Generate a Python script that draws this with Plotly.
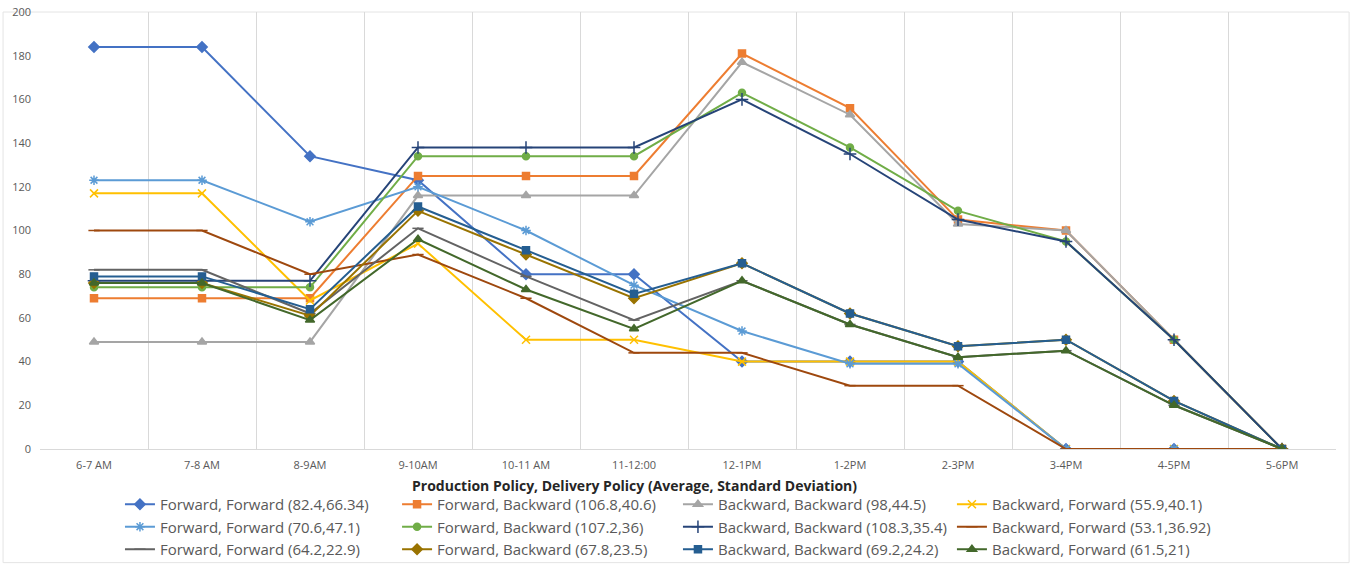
import plotly.graph_objects as go

hours = ["6-7 AM", "7-8 AM", "8-9AM", "9-10AM", "10-11 AM", "11-12:00",
         "12-1PM", "1-2PM", "2-3PM", "3-4PM", "4-5PM", "5-6PM"]

ff_82 = [184, 184, 134, 123, 80, 80, 40, 40, 40, 0, 0, 0]
fb_106 = [69, 69, 69, 125, 125, 125, 181, 156, 105, 100, 50, 0]
bb_98 = [49, 49, 49, 116, 116, 116, 177, 153, 103, 100, 50, 0]
bf_55 = [117, 117, 68, 94, 50, 50, 40, 40, 40, 0, 0, 0]
ff_70 = [123, 123, 104, 120, 100, 75, 54, 39, 39, 0, 0, 0]
fb_107 = [74, 74, 74, 134, 134, 134, 163, 138, 109, 95, 50, 0]
bb_108 = [77, 77, 77, 138, 138, 138, 160, 135, 105, 95, 50, 0]
bf_53 = [100, 100, 80, 89, 69, 44, 44, 29, 29, 0, 0, 0]
ff_64 = [82, 82, 62, 101, 79, 59, 77, 57, 42, 45, 20, 0]
fb_67 = [76, 76, 61, 109, 89, 69, 85, 62, 47, 50, 22, 0]
bb_69 = [79, 79, 64, 111, 91, 71, 85, 62, 47, 50, 22, 0]
bf_61 = [76, 76, 59, 96, 73, 55, 77, 57, 42, 45, 20, 0]

# name, values, colour, marker symbol, marker size, legend column
series = [
    ("Forward, Forward (82.4,66.34)", ff_82, "#4472C4", "diamond", 8, "legend"),
    ("Forward, Backward (106.8,40.6)", fb_106, "#ED7D31", "square", 7, "legend2"),
    ("Backward, Backward (98,44.5)", bb_98, "#A5A5A5", "triangle-up", 8, "legend3"),
    ("Backward, Forward (55.9,40.1)", bf_55, "#FFC000", "x-thin-open", 8, "legend4"),
    ("Forward, Forward (70.6,47.1)", ff_70, "#5B9BD5", "asterisk-open", 8, "legend"),
    ("Forward, Backward (107.2,36)", fb_107, "#70AD47", "circle", 7, "legend2"),
    ("Backward, Backward (108.3,35.4)", bb_108, "#264478", "cross-thin-open", 9, "legend3"),
    ("Backward, Forward (53.1,36.92)", bf_53, "#9E480E", "line-ew-open", 8, "legend4"),
    ("Forward, Forward (64.2,22.9)", ff_64, "#636363", "line-ew-open", 8, "legend"),
    ("Forward, Backward (67.8,23.5)", fb_67, "#997300", "diamond", 8, "legend2"),
    ("Backward, Backward (69.2,24.2)", bb_69, "#255E91", "square", 7, "legend3"),
    ("Backward, Forward (61.5,21)", bf_61, "#43682B", "triangle-up", 8, "legend4"),
]

FONT = "Open Sans, Lato, sans-serif"

fig = go.Figure()
for rank, (name, vals, color, sym, size, leg) in enumerate(series):
    fig.add_trace(go.Scatter(
        x=list(range(len(hours))), y=vals, name=name, mode="lines+markers",
        line=dict(color=color, width=2),
        marker=dict(symbol=sym, size=size, color=color,
                    line=dict(color=color, width=1.5)),
        legend=leg, legendrank=rank,
    ))

leg_common = dict(orientation="v", xref="container", yref="container",
                  xanchor="left", yanchor="top", y=0.1363,
                  font=dict(family=FONT, size=15, color="#595959"),
                  bgcolor="rgba(0,0,0,0)", tracegroupgap=0, itemwidth=30)

fig.update_layout(
    width=1357, height=565,
    margin=dict(l=40, r=21, t=12, b=116, autoexpand=False),
    plot_bgcolor="white", paper_bgcolor="white",
    font=dict(family=FONT, color="#595959"),
    showlegend=True,
    legend=dict(x=0.0884, **leg_common),
    legend2=dict(x=0.2926, **leg_common),
    legend3=dict(x=0.4996, **leg_common),
    legend4=dict(x=0.7015, **leg_common),
    xaxis=dict(
        range=[-0.5, 11.5], tickmode="array", tickvals=list(range(len(hours))),
        ticktext=hours, showgrid=False, zeroline=False, ticks="",
        ticklabelstandoff=6,
        tickfont=dict(family=FONT, size=11, color="#595959"),
        showline=True, linecolor="#D9D9D9", linewidth=1,
        minor=dict(tick0=-0.5, dtick=1, showgrid=True, gridcolor="#D9D9D9", gridwidth=1),
    ),
    yaxis=dict(
        range=[0, 200], dtick=20, showgrid=False, zeroline=False, ticks="",
        ticklabelstandoff=8,
        tickfont=dict(family=FONT, size=11, color="#595959"), showline=False,
    ),
    annotations=[dict(
        text="<b>Production Policy, Delivery Policy (Average, Standard Deviation)</b>",
        xref="paper", yref="paper", x=0.459, y=-0.083, xanchor="center", yanchor="middle",
        showarrow=False, font=dict(family=FONT, size=14, color="#262626"),
    )],
    shapes=[dict(type="rect", xref="paper", yref="paper",
                 x0=-0.0285, x1=1.0101, y0=-0.26, y1=1.0,
                 line=dict(color="#E4E4E4", width=1), layer="below")],
)

fig.write_html("out.html")
